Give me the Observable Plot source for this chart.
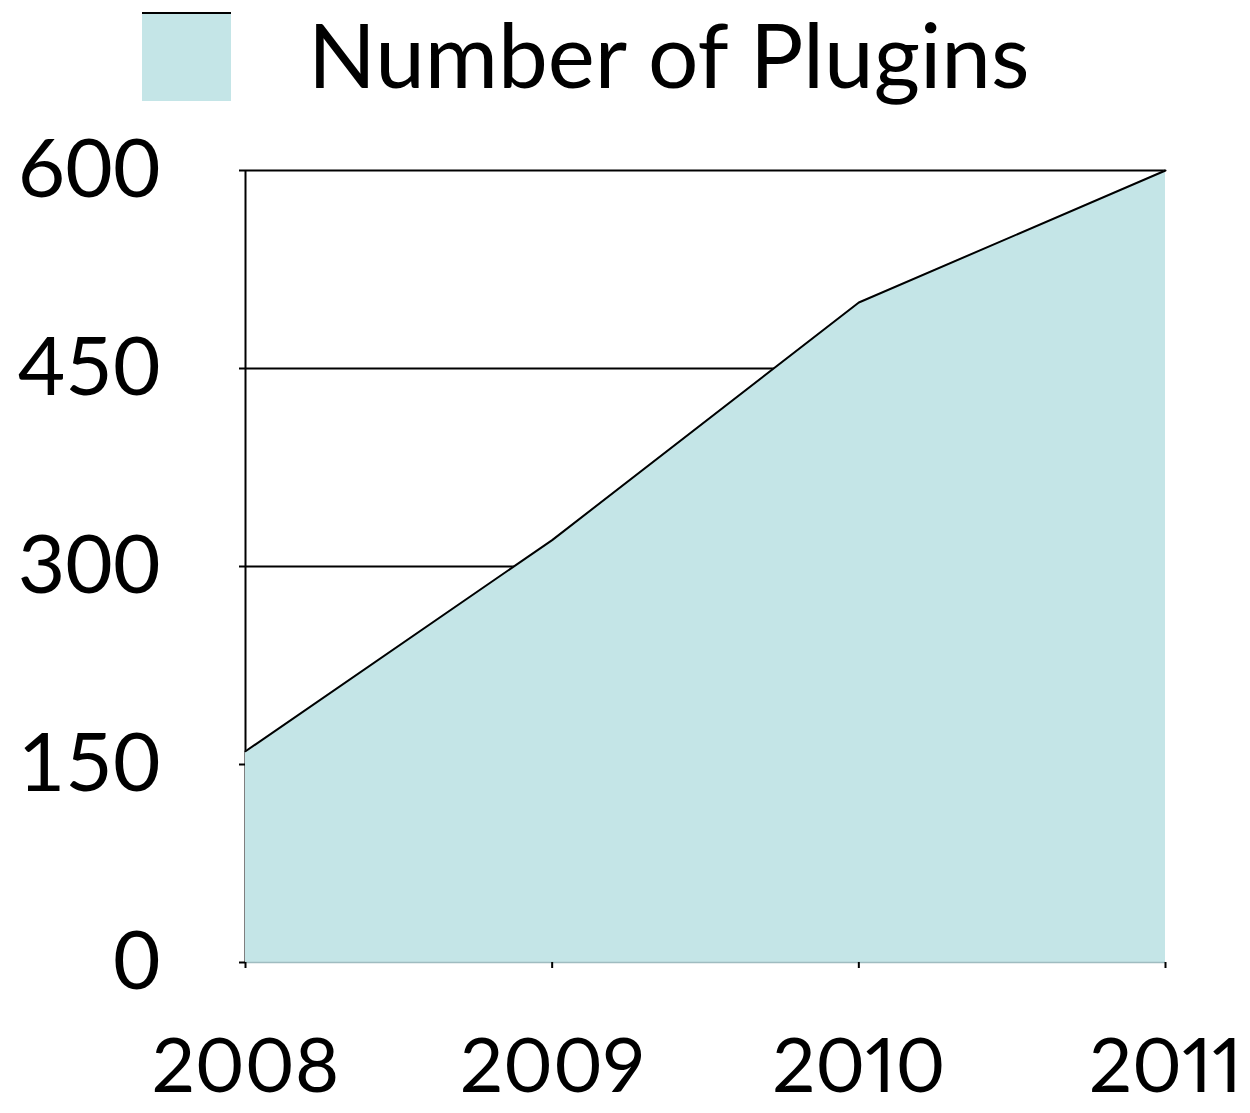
<!DOCTYPE html>
<html>
<head>
<meta charset="utf-8">
<script src="https://cdn.jsdelivr.net/npm/d3@7"></script>
<script src="https://cdn.jsdelivr.net/npm/@observablehq/plot@0.6"></script>
<style>
  body { margin: 0; background: #fff; }
  #wrap { position: relative; width: 1250px; height: 1113px; font-family: Lato, sans-serif; }
  #legend { position: absolute; left: 142px; top: 12px; display: flex; align-items: center; z-index: 2; }
  #legend .sw { width: 89px; height: 87px; background: #c4e5e7; border-top: 2px solid #000; }
  #legend .lb { margin-left: 77px; font-size: 89px; line-height: 1; color: #000; margin-top: -6px; }
  svg text { font-family: Lato, sans-serif; }
</style>
</head>
<body>
<div id="wrap">
  <div id="legend"><div class="sw"></div><div class="lb" id="lbl"></div></div>
  <div id="chart"></div>
</div>
<script>
const years = [2008, 2009, 2010, 2011];
const plugins = [160, 320, 500, 600];
const yTicks = [0, 150, 300, 450, 600];
const gridValues = [150, 300, 450, 600];
const seriesName = "Number of Plugins";

document.getElementById("lbl").textContent = seriesName;
const data = years.map((y, i) => ({year: y, value: plugins[i]}));

const chart = Plot.plot({
  width: 1250,
  height: 1113,
  marginTop: 170,
  marginLeft: 245,
  marginRight: 85,
  marginBottom: 151,
  style: {fontSize: "84px", fontFamily: "Lato, sans-serif", color: "#000", background: "#fff", overflow: "visible"},
  x: {domain: [years[0], years[years.length - 1]], label: null, axis: null},
  y: {domain: [0, 600], label: null, axis: null},
  marks: [
    Plot.ruleY(gridValues, {stroke: "#000", strokeWidth: 2}),
    Plot.ruleX([years[0]], {y1: 0, y2: 600, stroke: "#000", strokeWidth: 2}),
    Plot.areaY(data, {x: "year", y: "value", fill: "#c4e5e7"}),
    Plot.ruleY([0], {stroke: "#9fbcc0", strokeWidth: 1.5}),
    Plot.line(data, {x: "year", y: "value", stroke: "#000", strokeWidth: 2}),
    Plot.axisX({ticks: years, tickFormat: d => String(d), tickSize: 6, tickPadding: 70, strokeWidth: 2, fontSize: 76, fontVariant: "proportional-nums", label: null}),
    Plot.axisY({ticks: yTicks, tickSize: 6, tickPadding: 79, strokeWidth: 2, fontSize: 82, label: null})
  ]
});
document.getElementById("chart").appendChild(chart);
</script>
</body>
</html>
